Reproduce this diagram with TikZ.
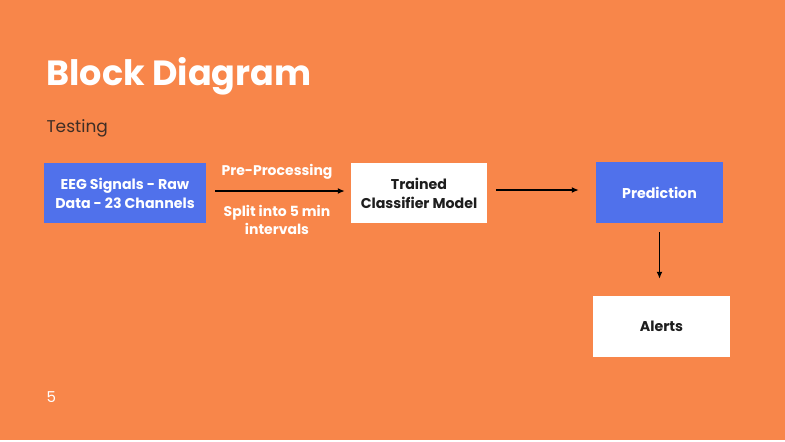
\documentclass[tikz,border=0pt]{standalone}
\usepackage{fontspec}
\setmainfont{Poppins}
\usetikzlibrary{positioning}
\usetikzlibrary{arrows.meta}
\definecolor{slideorange}{RGB}{248,134,74}
\definecolor{boxblue}{RGB}{80,113,235}
\definecolor{boxtext}{RGB}{30,30,30}

\begin{document}
\begin{tikzpicture}[x=1pt,y=-1pt,
        bluebox/.style={fill=boxblue, text=white, font=\fontsize{14.2}{19}\selectfont\bfseries, align=center, inner sep=0pt},
        whitebox/.style={fill=white, text=boxtext, font=\fontsize{14.2}{19}\selectfont\bfseries, align=center, inner sep=0pt},
        arrowlabel/.style={text=white, font=\fontsize{14}{18}\selectfont\bfseries, align=center},
        flow/.style={-{Latex[length=7pt,width=6pt]}, line width=1.5pt, black}]
        \fill[white] (0,0) rectangle (785,442);
        \fill[slideorange] (0,0) rectangle (785,440);
        \useasboundingbox (0,0) rectangle (785,442);

        \node[anchor=base west, text=white, font=\fontsize{35}{40}\selectfont\bfseries] (title) at (43,85) {Block Diagram};
        \node[anchor=base west, text=boxtext!85!slideorange, font=\fontsize{17}{20}\selectfont] (testing) at (43,132) {Testing};
        \node[anchor=base west, text=white, font=\fontsize{15}{18}\selectfont] (pagenum) at (43,402) {5};

        \node[bluebox, minimum width=162pt, minimum height=60pt] (eeg) at (125,193) {EEG Signals - Raw\\Data - 23 Channels};
        \node[whitebox, minimum width=136pt, minimum height=60pt] (trained) at (419,193) {Trained\\Classifier Model};
        \node[bluebox, minimum width=127pt, minimum height=61pt] (prediction) at (659.5,192.5) {Prediction};
        \node[whitebox, minimum width=137pt, minimum height=61pt] (alerts) at (661.5,326.5) {Alerts};

        % connectors
        \draw[flow, shorten <=9pt, shorten >=6pt] ([yshift=2pt]eeg.east) -- ([yshift=2pt]trained.west);
        \draw[flow, shorten <=9pt, shorten >=17pt] ([yshift=2.5pt]prediction.west -| trained.east) -- ([yshift=2.5pt]prediction.west);
        \draw[flow, shorten <=9pt, shorten >=17pt] (prediction.south) -- (prediction.south |- alerts.north);

        \node[arrowlabel] (preproc) at (277,172) {Pre-Processing};
        \node[arrowlabel] (split) at (277,220) {Split into 5 min\\intervals};
    \end{tikzpicture}
\end{document}
